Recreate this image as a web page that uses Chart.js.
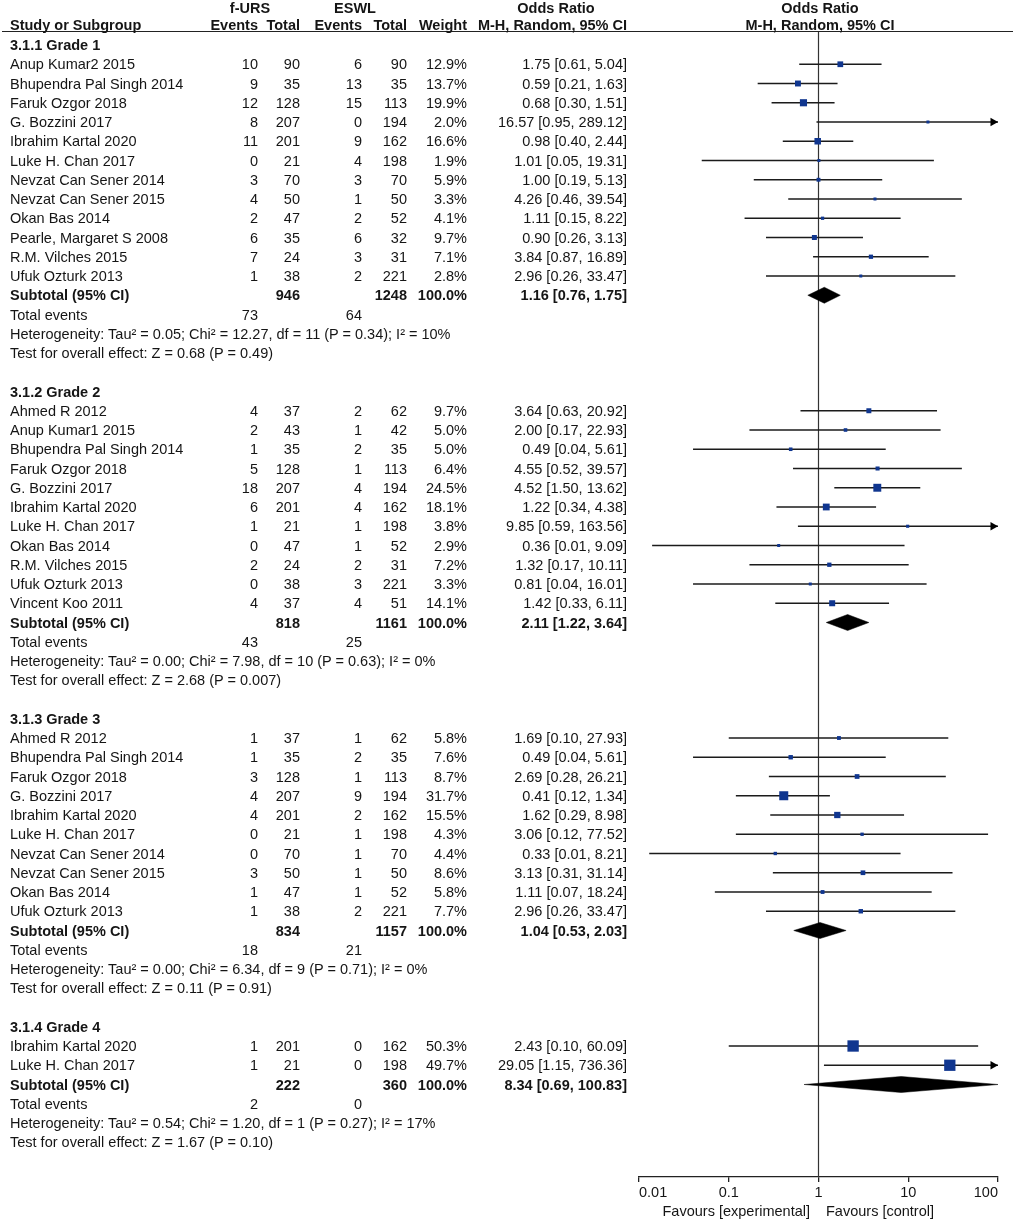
<!DOCTYPE html>
<html>
<head>
<meta charset="utf-8">
<script src="https://cdn.jsdelivr.net/npm/chart.js@4.4.1/dist/chart.umd.min.js"></script>
<style>
  html, body { margin: 0; padding: 0; background: #fff; }
  #page { position: relative; width: 1013px; height: 1220px; overflow: hidden;
          font-family: "Liberation Sans", Arial, sans-serif; font-size: 14.5px; color: #151515; }
  #chartBox { position: absolute; left: 0; top: 0; width: 1013px; height: 1220px; }
  .t { position: absolute; white-space: nowrap; line-height: 16px; height: 16px; }
  .b { font-weight: bold; }
  #headLine { position: absolute; left: 2px; right: 0; top: 31px; height: 0; border-top: 1.5px solid #222; }
</style>
</head>
<body>
<div id="page">
  <div id="chartBox"><canvas id="forest"></canvas></div>
  <div id="headLine"></div>
</div>
<script>
// ---- data ----
// counts: [f-URS events, f-URS total, ESWL events, ESWL total]; or: [OR, low, high]
const g1Studies = ['Anup Kumar2 2015', 'Bhupendra Pal Singh 2014', 'Faruk Ozgor 2018', 'G. Bozzini 2017',
  'Ibrahim Kartal 2020', 'Luke H. Chan 2017', 'Nevzat Can Sener 2014', 'Nevzat Can Sener 2015',
  'Okan Bas 2014', 'Pearle, Margaret S 2008', 'R.M. Vilches 2015', 'Ufuk Ozturk 2013'];
const g1Counts = [[10, 90, 6, 90], [9, 35, 13, 35], [12, 128, 15, 113], [8, 207, 0, 194], [11, 201, 9, 162],
  [0, 21, 4, 198], [3, 70, 3, 70], [4, 50, 1, 50], [2, 47, 2, 52], [6, 35, 6, 32], [7, 24, 3, 31], [1, 38, 2, 221]];
const g1Weights = [12.9, 13.7, 19.9, 2.0, 16.6, 1.9, 5.9, 3.3, 4.1, 9.7, 7.1, 2.8];
const g1OR = [[1.75, 0.61, 5.04], [0.59, 0.21, 1.63], [0.68, 0.30, 1.51], [16.57, 0.95, 289.12],
  [0.98, 0.40, 2.44], [1.01, 0.05, 19.31], [1.00, 0.19, 5.13], [4.26, 0.46, 39.54], [1.11, 0.15, 8.22],
  [0.90, 0.26, 3.13], [3.84, 0.87, 16.89], [2.96, 0.26, 33.47]];

const g2Studies = ['Ahmed R 2012', 'Anup Kumar1 2015', 'Bhupendra Pal Singh 2014', 'Faruk Ozgor 2018',
  'G. Bozzini 2017', 'Ibrahim Kartal 2020', 'Luke H. Chan 2017', 'Okan Bas 2014', 'R.M. Vilches 2015',
  'Ufuk Ozturk 2013', 'Vincent Koo 2011'];
const g2Counts = [[4, 37, 2, 62], [2, 43, 1, 42], [1, 35, 2, 35], [5, 128, 1, 113], [18, 207, 4, 194],
  [6, 201, 4, 162], [1, 21, 1, 198], [0, 47, 1, 52], [2, 24, 2, 31], [0, 38, 3, 221], [4, 37, 4, 51]];
const g2Weights = [9.7, 5.0, 5.0, 6.4, 24.5, 18.1, 3.8, 2.9, 7.2, 3.3, 14.1];
const g2OR = [[3.64, 0.63, 20.92], [2.00, 0.17, 22.93], [0.49, 0.04, 5.61], [4.55, 0.52, 39.57],
  [4.52, 1.50, 13.62], [1.22, 0.34, 4.38], [9.85, 0.59, 163.56], [0.36, 0.014, 9.09],
  [1.32, 0.17, 10.11], [0.81, 0.04, 16.01], [1.42, 0.33, 6.11]];

const g3Studies = ['Ahmed R 2012', 'Bhupendra Pal Singh 2014', 'Faruk Ozgor 2018', 'G. Bozzini 2017',
  'Ibrahim Kartal 2020', 'Luke H. Chan 2017', 'Nevzat Can Sener 2014', 'Nevzat Can Sener 2015',
  'Okan Bas 2014', 'Ufuk Ozturk 2013'];
const g3Counts = [[1, 37, 1, 62], [1, 35, 2, 35], [3, 128, 1, 113], [4, 207, 9, 194], [4, 201, 2, 162],
  [0, 21, 1, 198], [0, 70, 1, 70], [3, 50, 1, 50], [1, 47, 1, 52], [1, 38, 2, 221]];
const g3Weights = [5.8, 7.6, 8.7, 31.7, 15.5, 4.3, 4.4, 8.6, 5.8, 7.7];
const g3OR = [[1.69, 0.10, 27.93], [0.49, 0.04, 5.61], [2.69, 0.28, 26.21], [0.41, 0.12, 1.34],
  [1.62, 0.29, 8.98], [3.06, 0.12, 77.52], [0.33, 0.013, 8.21], [3.13, 0.31, 31.14],
  [1.11, 0.07, 18.24], [2.96, 0.26, 33.47]];

const g4Studies = ['Ibrahim Kartal 2020', 'Luke H. Chan 2017'];
const g4Counts = [[1, 201, 0, 162], [1, 21, 0, 198]];
const g4Weights = [50.3, 49.7];
const g4OR = [[2.43, 0.10, 60.09], [29.05, 1.15, 736.36]];

const groupTitles = ['3.1.1 Grade 1', '3.1.2 Grade 2', '3.1.3 Grade 3', '3.1.4 Grade 4'];
const subtotalN = [[946, 1248], [818, 1161], [834, 1157], [222, 360]];
const subtotalOR = [[1.16, 0.76, 1.75], [2.11, 1.22, 3.64], [1.04, 0.53, 2.03], [8.34, 0.69, 100.83]];
const totalEvents = [[73, 64], [43, 25], [18, 21], [2, 0]];
const heterogeneity = [
  'Heterogeneity: Tau\u00b2 = 0.05; Chi\u00b2 = 12.27, df = 11 (P = 0.34); I\u00b2 = 10%',
  'Heterogeneity: Tau\u00b2 = 0.00; Chi\u00b2 = 7.98, df = 10 (P = 0.63); I\u00b2 = 0%',
  'Heterogeneity: Tau\u00b2 = 0.00; Chi\u00b2 = 6.34, df = 9 (P = 0.71); I\u00b2 = 0%',
  'Heterogeneity: Tau\u00b2 = 0.54; Chi\u00b2 = 1.20, df = 1 (P = 0.27); I\u00b2 = 17%'];
const overallTest = [
  'Test for overall effect: Z = 0.68 (P = 0.49)',
  'Test for overall effect: Z = 2.68 (P = 0.007)',
  'Test for overall effect: Z = 0.11 (P = 0.91)',
  'Test for overall effect: Z = 1.67 (P = 0.10)'];
const xTicks = [0.01, 0.1, 1, 10, 100];

const groups = [
  { studies: g1Studies, counts: g1Counts, weights: g1Weights, or: g1OR },
  { studies: g2Studies, counts: g2Counts, weights: g2Weights, or: g2OR },
  { studies: g3Studies, counts: g3Counts, weights: g3Weights, or: g3OR },
  { studies: g4Studies, counts: g4Counts, weights: g4Weights, or: g4OR }
];

// ---- layout ----
const W = 1013, H = 1220;
const ROW0 = 45, ROWH = 19.25;
const PLOT_TOP = 32, PLOT_BOTTOM = 1177, PLOT_LEFT = 639, PLOT_RIGHT = 998;
const COL = { name: 10, ursEv: 258, ursTot: 300, eswlEv: 362, eswlTot: 407, weight: 467, ci: 627 };
const yMin = (PLOT_TOP - ROW0) / ROWH;
const yMax = (PLOT_BOTTOM - ROW0) / ROWH;
const X_MIN = xTicks[0], X_MAX = xTicks[xTicks.length - 1];
const pxPerDecade = (PLOT_RIGHT - PLOT_LEFT) / Math.log10(X_MAX / X_MIN);
const ARROW_R = 5;
const arrowX = X_MAX * Math.pow(10, -ARROW_R / pxPerDecade);
const DIAMOND_H = 8 / ROWH;
const BLUE = '#10368f', INK = '#1b1b1b';

const page = document.getElementById('page');
function put(text, x, y, align, bold) {
  const d = document.createElement('div');
  d.className = 't' + (bold ? ' b' : '');
  d.textContent = text;
  d.style.top = (y - 8) + 'px';
  if (align === 'right') d.style.right = (W - x) + 'px';
  else if (align === 'center') { d.style.left = (x - 150) + 'px'; d.style.width = '300px'; d.style.textAlign = 'center'; }
  else d.style.left = x + 'px';
  page.appendChild(d);
}
const rowY = i => ROW0 + i * ROWH;
const f2 = v => v.toFixed(2);
const ciText = o => `${f2(o[0])} [${f2(o[1])}, ${f2(o[2])}]`;
// square side grows with sqrt(weight), never below 3px
const squareSide = w => Math.max(3, 1.6 * Math.sqrt(w));

// header
put('f-URS', 250, 8, 'center', true);
put('ESWL', 355, 8, 'center', true);
put('Odds Ratio', 556, 8, 'center', true);
put('Odds Ratio', 820, 8, 'center', true);
put('Study or Subgroup', COL.name, 25, 'left', true);
put('Events', COL.ursEv, 25, 'right', true);
put('Total', COL.ursTot, 25, 'right', true);
put('Events', COL.eswlEv, 25, 'right', true);
put('Total', COL.eswlTot, 25, 'right', true);
put('Weight', COL.weight, 25, 'right', true);
put('M-H, Random, 95% CI', COL.ci, 25, 'right', true);
put('M-H, Random, 95% CI', 820, 25, 'center', true);
put('Favours [experimental]', 810, 1211, 'right');
put('Favours [control]', 826, 1211, 'left');

// rows + chart marks
const ciSets = [];
const squares = [], squareR = [];
const arrows = [];
const diamonds = [];
let row = 0;
groups.forEach((g, gi) => {
  put(groupTitles[gi], COL.name, rowY(row), 'left', true);
  row++;
  g.studies.forEach((name, si) => {
    const c = g.counts[si], o = g.or[si], y = rowY(row);
    put(name, COL.name, y);
    put(String(c[0]), COL.ursEv, y, 'right');
    put(String(c[1]), COL.ursTot, y, 'right');
    put(String(c[2]), COL.eswlEv, y, 'right');
    put(String(c[3]), COL.eswlTot, y, 'right');
    put(g.weights[si].toFixed(1) + '%', COL.weight, y, 'right');
    put(ciText(o), COL.ci, y, 'right');
    ciSets.push([{ x: Math.max(o[1], X_MIN), y: row }, { x: Math.min(o[2], X_MAX), y: row }]);
    if (o[2] > X_MAX) arrows.push({ x: arrowX, y: row });
    squares.push({ x: o[0], y: row });
    squareR.push(squareSide(g.weights[si]) / Math.SQRT2);
    row++;
  });
  const y = rowY(row), s = subtotalOR[gi];
  put('Subtotal (95% CI)', COL.name, y, 'left', true);
  put(String(subtotalN[gi][0]), COL.ursTot, y, 'right', true);
  put(String(subtotalN[gi][1]), COL.eswlTot, y, 'right', true);
  put('100.0%', COL.weight, y, 'right', true);
  put(ciText(s), COL.ci, y, 'right', true);
  diamonds.push([
    { x: s[1], y: row }, { x: s[0], y: row - DIAMOND_H }, { x: s[2], y: row },
    { x: s[0], y: row + DIAMOND_H }, { x: s[1], y: row }
  ]);
  row++;
  put('Total events', COL.name, rowY(row));
  put(String(totalEvents[gi][0]), COL.ursEv, rowY(row), 'right');
  put(String(totalEvents[gi][1]), COL.eswlEv, rowY(row), 'right');
  row++;
  put(heterogeneity[gi], COL.name, rowY(row));
  row++;
  put(overallTest[gi], COL.name, rowY(row));
  row += 2;
});

const datasets = [];
datasets.push({
  data: [{ x: 1, y: yMin }, { x: 1, y: yMax }],
  borderColor: '#333', borderWidth: 1.2, pointRadius: 0, order: 5
});
ciSets.forEach(d => datasets.push({
  data: d, borderColor: INK, borderWidth: 1.5, pointRadius: 0, order: 4
}));
diamonds.forEach(d => datasets.push({
  data: d, borderColor: '#000', backgroundColor: '#000', borderWidth: 0.5,
  fill: 'shape', pointRadius: 0, order: 3
}));
datasets.push({
  data: arrows, showLine: false, pointStyle: 'triangle', rotation: 90,
  pointRadius: ARROW_R, backgroundColor: '#000', borderColor: '#000', borderWidth: 0, order: 2
});
datasets.push({
  data: squares, showLine: false, pointStyle: 'rect', pointRadius: squareR,
  backgroundColor: BLUE, borderColor: BLUE, borderWidth: 0, order: 1
});

new Chart(document.getElementById('forest'), {
  type: 'line',
  data: { datasets },
  options: {
    responsive: true,
    maintainAspectRatio: false,
    animation: false,
    events: [],
    layout: { padding: { left: PLOT_LEFT, right: W - PLOT_RIGHT, top: PLOT_TOP, bottom: 0 } },
    plugins: { legend: { display: false }, tooltip: { enabled: false } },
    scales: {
      x: {
        type: 'logarithmic',
        min: X_MIN,
        max: X_MAX,
        afterBuildTicks: scale => { scale.ticks = xTicks.map(v => ({ value: v })); },
        afterFit: scale => { scale.height = H - PLOT_BOTTOM; },
        grid: { drawOnChartArea: false, drawTicks: true, tickLength: 5, color: '#222', lineWidth: 1.3 },
        border: { display: true, color: '#222', width: 1.3 },
        ticks: {
          callback: v => String(v),
          align: 'inner',
          autoSkip: false,
          maxRotation: 0,
          padding: 2,
          color: '#151515',
          font: { family: '"Liberation Sans", Arial, sans-serif', size: 14.5 }
        }
      },
      y: {
        type: 'linear',
        reverse: true,
        min: yMin,
        max: yMax,
        display: false
      }
    }
  }
});
</script>
</body>
</html>
